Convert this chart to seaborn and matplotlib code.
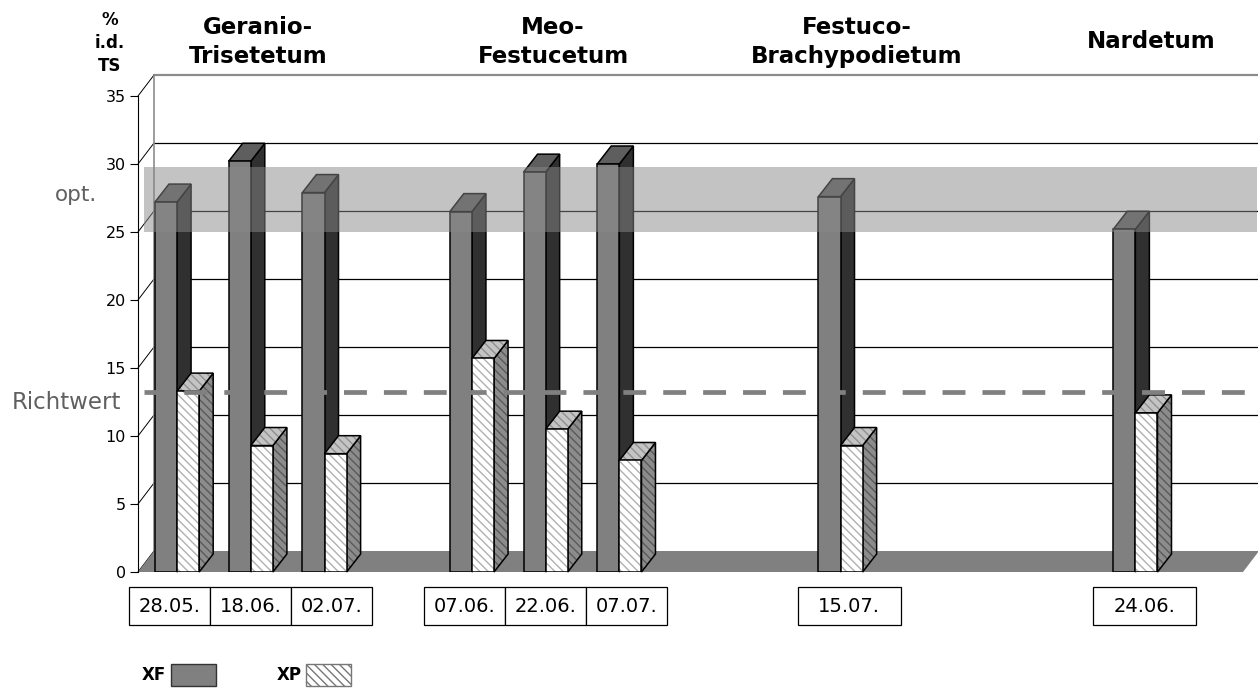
import matplotlib
matplotlib.use("Agg")
import matplotlib.pyplot as plt
import matplotlib.transforms as mtransforms
from matplotlib.patches import Polygon, Rectangle, Patch
import numpy as np
import pandas as pd
import seaborn as sns

# values (% i.d. TS)
dates = ["28.05.", "18.06.", "02.07.", "07.06.", "22.06.", "07.07.", "15.07.", "24.06."]
communities = (["Geranio-\nTrisetetum"] * 3 + ["Meo-\nFestucetum"] * 3
               + ["Festuco-\nBrachypodietum", "Nardetum"])
xf = [27.2, 30.2, 27.9, 26.5, 29.4, 30.0, 27.6, 25.2]
xp = [13.3, 9.3, 8.7, 15.7, 10.5, 8.2, 9.3, 11.7]
richtwert = 13.2
opt_lo, opt_hi = 25.0, 29.8
yticks = [0, 5, 10, 15, 20, 25, 30, 35]

# layout: slot of each date on the category axis, empty slots give the gaps
slots = [0, 1, 2, 4, 5, 6, 9, 13]
n_slots = 14
order = [" " * (i + 1) for i in range(n_slots)]
for d, s in zip(dates, slots):
    order[s] = d

df = pd.DataFrame({"Datum": dates * 2,
                   "Reihe": ["XF"] * len(dates) + ["XP"] * len(dates),
                   "Wert": xf + xp})

sns.set_style("white")
plt.rcParams["font.family"] = ["DejaVu Sans"]
plt.rcParams["text.color"] = "black"
plt.rcParams["ytick.labelcolor"] = "black"
plt.rcParams["hatch.linewidth"] = 1.0

W, H = 1258, 690
fig = plt.figure(figsize=(W / 100, H / 100), dpi=100)
ax = fig.add_axes([138 / W, 1 - 572 / H, (1243 - 138) / W, (572 - 96) / H])

sns.barplot(data=df, x="Datum", y="Wert", hue="Reihe", order=order, hue_order=["XF", "XP"],
            palette={"XF": "#808080", "XP": "white"}, width=0.6, gap=0, saturation=1,
            errorbar=None, legend=False, ax=ax)

x0, x1 = -0.53, 14.46
ax.set_xlim(x0, x1)
ax.set_ylim(0, 35)
ax.set_xticks([])
ax.set_xlabel("")
ax.set_ylabel("")
ax.set_yticks(yticks)
ax.tick_params(axis="y", left=True, length=5.8, width=0.8, labelsize=11.5, pad=3,
               color="black", labelcolor="black")
for side in ["top", "right", "bottom"]:
    ax.spines[side].set_visible(False)
ax.spines["left"].set_color("black")
ax.spines["left"].set_linewidth(0.8)
ax.patch.set_alpha(0)

# pseudo 3d depth (in data units)
wall_dx, wall_dy = 16 / 73.7, 21 / 13.6
bar_dx, bar_dy = 14 / 73.7, 18 / 13.6

# floor and back wall
ax.add_patch(Polygon([(x0, 0), (x1, 0), (x1 + wall_dx, wall_dy), (x0 + wall_dx, wall_dy)],
                     closed=True, facecolor="#808080", edgecolor="none", zorder=1, clip_on=False))
for v in yticks[1:]:
    last = v == yticks[-1]
    ax.plot([x0 + wall_dx, x1 + wall_dx], [v + wall_dy] * 2, color="#8c8c8c" if last else "black",
            lw=1.6 if last else 0.9, zorder=0.5, clip_on=False)
for v in yticks:
    ax.plot([x0, x0 + wall_dx], [v, v + wall_dy], color="black", lw=0.7, zorder=0.5, clip_on=False)
ax.plot([x0 + wall_dx] * 2, [wall_dy, yticks[-1] + wall_dy], color="#8c8c8c", lw=1.2,
        zorder=0.5, clip_on=False)


def face(pts, fc, z, hatch=None, hc=None):
    if hatch:
        ax.add_patch(Polygon(pts, closed=True, facecolor=fc, edgecolor=hc, lw=0, hatch=hatch,
                             zorder=z, clip_on=False))
        ax.add_patch(Polygon(pts, closed=True, fill=False, edgecolor="black", lw=1.1,
                             zorder=z, clip_on=False))
    else:
        ax.add_patch(Polygon(pts, closed=True, facecolor=fc, edgecolor="black", lw=1.1,
                             zorder=z, clip_on=False))


hatch = "\\\\\\\\"
for k, (bf, bp) in enumerate(zip(ax.containers[0], ax.containers[1])):
    z = 3 + k * 0.1
    # XF bar
    x, w, h = bf.get_x(), bf.get_width(), bf.get_height()
    face([(x + w, 0), (x + w + bar_dx, bar_dy), (x + w + bar_dx, h + bar_dy), (x + w, h)], "#303030", z)
    face([(x, h), (x + bar_dx, h + bar_dy), (x + w + bar_dx, h + bar_dy), (x + w, h)], "#5e5e5e", z)
    bf.set_edgecolor("black")
    bf.set_linewidth(1.1)
    bf.set_zorder(z + 0.01)
    # XP bar
    x, w, h = bp.get_x(), bp.get_width(), bp.get_height()
    face([(x + w, 0), (x + w + bar_dx, bar_dy), (x + w + bar_dx, h + bar_dy), (x + w, h)],
         "#8c8c8c", z + 0.02, hatch, "#5a5a5a")
    face([(x, h), (x + bar_dx, h + bar_dy), (x + w + bar_dx, h + bar_dy), (x + w, h)],
         "#c4c4c4", z + 0.02, hatch, "#909090")
    bp.set_edgecolor("#b0b0b0")
    bp.set_linewidth(0)
    bp.set_hatch(hatch)
    bp.set_zorder(z + 0.03)
    ax.add_patch(Rectangle((x, 0), w, h, fill=False, edgecolor="black", lw=1.1, zorder=z + 0.04))

# optimum band and Richtwert line
ax.fill_between([-0.45, 14.65], opt_lo, opt_hi, color="#888888", alpha=0.5, lw=0, zorder=6,
                clip_on=False)
ax.plot([-0.45, 14.6], [richtwert] * 2, color="#808080", lw=3.4, dashes=(4.85, 3.6), zorder=7,
        clip_on=False)
ax.text(-1.08, (opt_lo + opt_hi) / 2 + 0.3, "opt.", ha="right", va="center", fontsize=15.5,
        color="#606060")
ax.text(-0.76, richtwert - 0.75, "Richtwert", ha="right", va="center", fontsize=16.5,
        color="#606060")

# date boxes and community titles
blend = mtransforms.blended_transform_factory(ax.transData, fig.transFigure)
box_top, box_bot = 1 - 587 / H, 1 - 625 / H
groups = list(dict.fromkeys(communities))
for g in groups:
    idx = [i for i, c in enumerate(communities) if c == g]
    gs = [slots[i] for i in idx]
    single = len(idx) == 1
    cw = 1.4 if single else 1.1
    center = np.mean(gs) + (0.12 if single else 0.0)
    left = center - cw * len(idx) / 2
    for j, i in enumerate(idx):
        ax.add_patch(Rectangle((left + j * cw, box_bot), cw, box_top - box_bot, transform=blend,
                               facecolor="white", edgecolor="black", lw=0.9, clip_on=False))
        ax.text(left + (j + 0.5) * cw, (box_top + box_bot) / 2, dates[i], transform=blend,
                ha="center", va="center", fontsize=14)
    ax.text(center + 0.1, 1 - 42 / H, g, transform=blend, ha="center", va="center",
            fontsize=16.5, fontweight="bold", linespacing=1.3)

fig.text(110 / W, 1 - 43 / H, "%\ni.d.\nTS", ha="center", va="center", fontsize=12,
         fontweight="bold", linespacing=1.35)

# legend: label first, then the swatch
handles = [Patch(facecolor="#808080", edgecolor="#333333"),
           Patch(facecolor="white", edgecolor="#777777", hatch=hatch)]
fig.legend(handles, ["XF", "XP"], ncol=2, markerfirst=False, frameon=False, loc="center left",
           bbox_to_anchor=(142 / W, 1 - 675 / H), prop={"weight": "bold", "size": 12},
           handlelength=2.7, handleheight=1.6, handletextpad=0.3, columnspacing=3.6,
           borderpad=0, borderaxespad=0)

fig.savefig("out.png", dpi=100)
